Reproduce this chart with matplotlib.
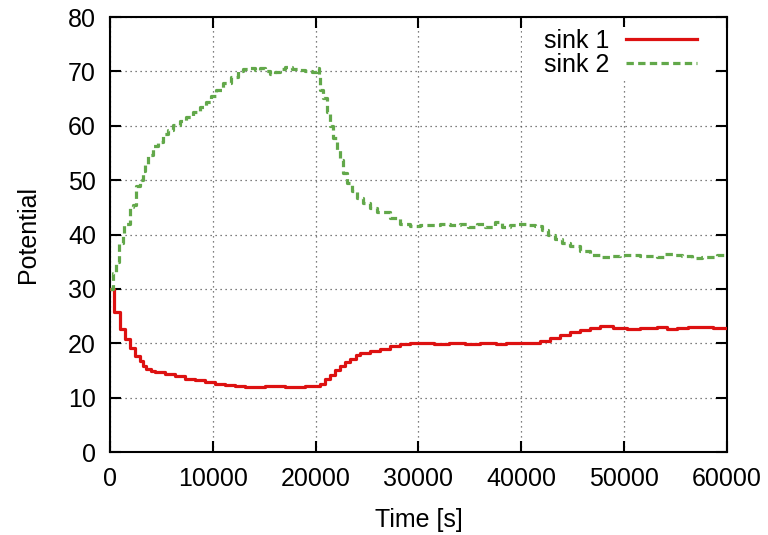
import matplotlib
matplotlib.use("Agg")
import matplotlib.pyplot as plt
from matplotlib.patches import Rectangle

plt.rcParams['font.family'] = ['Liberation Sans', 'DejaVu Sans']

# Sink potentials over time (step data)
sink1_t = [0, 390, 940, 1430, 1910, 2400, 2880, 3210, 3530, 4020, 4340, 5310, 6290,
           7260, 8230, 9210, 10180, 11150, 12120, 13100, 14070, 15040, 16010, 16990,
           17960, 18930, 20060, 20390, 20870, 21360, 21850, 22330, 22820, 23300, 23950,
           24310, 25280, 26250, 27230, 28200, 29170, 30140, 31500, 33000, 34500, 36000,
           37500, 38500, 39500, 41000, 41810, 42790, 43760, 44730, 45700, 46680, 47650,
           48950, 50240, 51530, 53150, 54130, 55100, 56240, 57370, 58670, 59800, 60000]
sink1_v = [30.0, 25.7, 22.6, 20.8, 19.2, 17.7, 16.8, 15.8, 15.2, 14.9, 14.7, 14.3, 13.9,
           13.5, 13.2, 12.9, 12.6, 12.3, 12.2, 12.0, 12.0, 12.2, 12.2, 12.0,
           12.0, 12.2, 12.2, 12.5, 13.4, 14.1, 15.0, 15.8, 16.5, 17.1, 17.8,
           18.2, 18.6, 19.0, 19.5, 19.9, 20.0, 20.0, 19.8, 20.0, 19.9, 20.1,
           19.8, 20.1, 20.0, 20.0, 20.4, 21.0, 21.5, 22.0, 22.5, 22.9, 23.1,
           22.9, 22.7, 22.9, 23.0, 22.6, 22.8, 23.0, 23.0, 22.9, 22.8, 22.8]

sink2_t = [0, 300, 620, 880, 1260, 1400, 1900, 2240, 2560, 2880, 3210, 3370, 3690, 4180,
           4670, 5150, 5640, 6120, 6770, 7420, 8070, 8720, 9370, 9850, 10340, 11000,
           11800, 12450, 12960, 13610, 14100, 14580, 15070, 15560, 16050, 16530, 17020,
           17670, 18310, 18960, 19610, 20100, 20300, 20420, 20740, 21070, 21390, 21720,
           22040, 22370, 22690, 23010, 23500, 23990, 24630, 25280, 25930, 27220, 28200,
           29170, 30140, 31120, 32100, 33060, 34040, 34850, 35650, 36460, 37440, 38090,
           38900, 39710, 40520, 41330, 41980, 42620, 43270, 43920, 44730, 45700, 46680,
           47650, 48620, 49590, 50560, 51530, 52510, 53150, 53970, 54780, 55590, 56560,
           57530, 58350, 59000, 59640, 60000]
sink2_v = [30.0, 33.0, 35.0, 38.5, 40.0, 42.0, 45.0, 45.5, 49.0, 50.0, 51.6, 53.0, 54.7, 56.2,
           57.0, 58.4, 59.3, 60.2, 60.8, 61.7, 62.6, 63.5, 64.3, 65.4, 66.6, 67.8,
           69.0, 70.0, 70.4, 70.6, 70.2, 70.6, 70.0, 69.5, 69.8, 70.4, 70.8,
           70.4, 70.2, 70.0, 69.9, 70.6, 69.1, 66.6, 65.1, 62.5, 59.9, 57.7,
           55.6, 53.7, 51.3, 49.4, 48.0, 46.7, 45.8, 44.8, 44.2, 43.1, 42.0,
           41.5, 41.7, 41.8, 42.0, 41.7, 42.0, 41.4, 42.0, 41.4, 42.3, 41.4,
           41.8, 42.0, 41.8, 41.5, 40.9, 40.0, 39.2, 38.5, 37.8, 36.9, 36.2,
           35.8, 36.0, 36.2, 36.3, 36.1, 36.0, 35.9, 36.4, 36.3, 36.0, 35.7,
           35.8, 35.9, 36.2, 36.2, 36.2]

x_ticks = [0, 10000, 20000, 30000, 40000, 50000, 60000]
y_ticks = [0, 10, 20, 30, 40, 50, 60, 70, 80]

fig = plt.figure(figsize=(7.68, 5.35), dpi=100)
ax = fig.add_axes([0.1432, 0.1551, 0.8034, 0.8131])

ax.plot(sink1_t, sink1_v, drawstyle='steps-post', color='#dd1111', lw=2.3,
        label='sink 1', zorder=3)
ax.plot(sink2_t, sink2_v, drawstyle='steps-post', color='#62a84a', lw=2.3,
        dashes=(2.3, 1.35), label='sink 2', zorder=3)

ax.set_xlim(0, 60000)
ax.set_ylim(0, 80)
ax.set_xticks(x_ticks)
ax.set_yticks(y_ticks)
ax.tick_params(direction='in', length=8, width=1.5, top=True, right=True,
               labelsize=18, colors='black')
ax.tick_params(axis='x', pad=11)
ax.tick_params(axis='y', pad=10)
ax.set_axisbelow(True)
ax.grid(True, color='#555555', linestyle=(0, (1, 3)), linewidth=0.9)
for s in ax.spines.values():
    s.set_linewidth(1.5)

ax.set_xlabel('Time [s]', fontsize=18, labelpad=12)
ax.set_ylabel('Potential', fontsize=18, labelpad=20)

# white backing behind the key
ax.add_patch(Rectangle((0.668, 0.855), 0.309, 0.122, transform=ax.transAxes,
                       facecolor='white', edgecolor='none', zorder=0.6))
ax.legend(loc='upper right', bbox_to_anchor=(0.951, 0.972), frameon=False,
          markerfirst=False, fontsize=18, handlelength=2.85, handletextpad=0.65,
          labelspacing=0.0, borderpad=0, borderaxespad=0)

fig.savefig('out.png', dpi=100)
